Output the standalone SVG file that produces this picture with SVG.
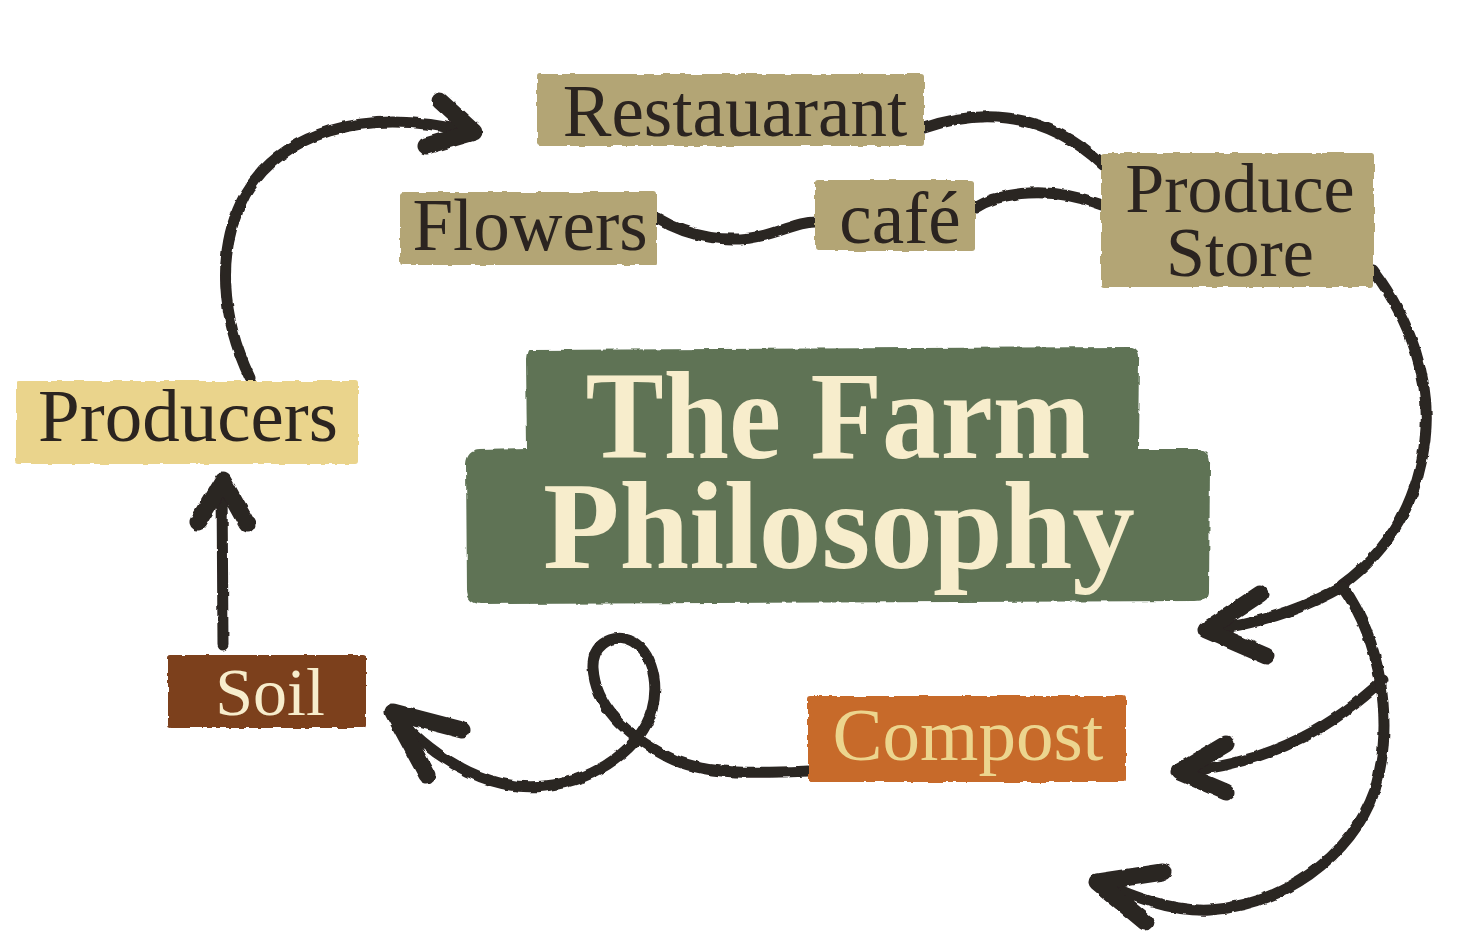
<svg xmlns="http://www.w3.org/2000/svg" width="1482" height="948" viewBox="0 0 1482 948">
<defs>
<filter id="rough" x="-5%" y="-5%" width="110%" height="110%">
<feTurbulence type="fractalNoise" baseFrequency="0.09" numOctaves="2" seed="3" result="n"/>
<feDisplacementMap in="SourceGraphic" in2="n" scale="4" xChannelSelector="R" yChannelSelector="G"/>
</filter>
<filter id="roughline" x="-10%" y="-10%" width="120%" height="120%">
<feTurbulence type="fractalNoise" baseFrequency="0.1" numOctaves="2" seed="7" result="n"/>
<feDisplacementMap in="SourceGraphic" in2="n" scale="3.5" xChannelSelector="R" yChannelSelector="G"/>
</filter>
</defs>
<style>
.tan{fill:#b3a574}
.lbl{font-family:"Liberation Serif",serif;font-size:72px;fill:#2b2420;text-anchor:middle}
.lt{font-family:"Liberation Serif",serif;font-size:73px;text-anchor:middle}
.title{font-family:"Liberation Serif",serif;font-weight:bold;font-size:124px;fill:#f7edcc;text-anchor:middle}
.line{fill:none;stroke:#2b2522;stroke-width:11;stroke-linecap:round;stroke-linejoin:round}
.head{fill:none;stroke:#2b2522;stroke-width:17;stroke-linecap:round;stroke-linejoin:round}
</style>
<rect width="1482" height="948" fill="#ffffff"/>

<g id="connectors" filter="url(#roughline)">
<path class="line" d="M250,378 C222,320 215,250 245,195 C280,135 360,105 470,132"/>
<path class="head" d="M440,101 L474,132 L426,146"/>
<path class="line" d="M924,128 C970,112 1040,105 1103,165"/>
<path class="line" d="M975,208 C1000,192 1050,185 1102,205"/>
<path class="line" d="M657,218 C690,238 730,244 765,235 C790,228 800,222 816,222"/>
<path class="line" d="M1373,270 C1410,320 1432,380 1425,440 C1418,500 1390,550 1342,585"/>
<path class="line" d="M1345,585 C1310,605 1270,622 1210,630"/>
<path class="head" d="M1260,594 L1206,630 L1266,656"/>
<path class="line" d="M1383,680 C1340,720 1280,762 1182,772"/>
<path class="head" d="M1226,744 L1179,772 L1226,792"/>
<path class="line" d="M1343,587 C1380,640 1395,720 1375,790 C1350,860 1280,905 1210,910 C1170,912 1130,895 1100,882"/>
<path class="head" d="M1163,872 L1097,882 L1145,922"/>
<path class="line" d="M808,771 C760,773 705,776 668,757 C625,735 595,705 593,668 C592,645 610,636 625,639 C650,645 660,680 652,710 C642,745 600,780 545,786 C495,792 440,765 396,716"/>
<path class="head" d="M462,730 L393,712 L427,775"/>
<path class="line" d="M223,645 L222,484"/>
<path class="head" d="M198,522 L223,481 L247,524"/>
</g>

<g id="title">
<path fill="#5e7355" filter="url(#rough)" d="M530,350 L1132,347 Q1140,349 1139,360 L1138,449 L1200,449 Q1211,451 1210,465 L1209,592 Q1208,601 1195,601 L480,604 Q467,603 467,590 L466,464 Q467,450 480,450 L527,449 L526,360 Q527,350 530,350 Z"/>
<text class="title" x="838" y="458" textLength="505" lengthAdjust="spacingAndGlyphs">The Farm</text>
<text class="title" x="839" y="568" textLength="592" lengthAdjust="spacingAndGlyphs">Philosophy</text>
</g>

<g id="restaurant">
<rect class="tan" x="537" y="74" width="387" height="72" rx="3" filter="url(#rough)"/>
<text class="lbl" x="735" y="136" style="font-size:73px">Restauarant</text>
</g>

<g id="flowers">
<rect class="tan" x="400" y="192" width="257" height="73" rx="3" filter="url(#rough)"/>
<text class="lbl" x="530" y="250" style="font-size:73px">Flowers</text>
</g>

<g id="cafe">
<rect class="tan" x="815" y="180" width="160" height="71" rx="3" filter="url(#rough)"/>
<text class="lbl" x="900" y="243" style="font-size:73px">café</text>
</g>

<g id="produce-store">
<rect class="tan" x="1101" y="153" width="273" height="134" rx="3" filter="url(#rough)"/>
<text class="lbl" x="1240" y="212" style="font-size:70px">Produce</text>
<text class="lbl" x="1240" y="276" style="font-size:70px">Store</text>
</g>

<g id="producers">
<rect fill="#ead48c" x="16" y="381" width="342" height="83" rx="3" filter="url(#rough)"/>
<text class="lbl" x="188" y="441" style="font-size:75px">Producers</text>
</g>

<g id="soil">
<rect fill="#7b3f1d" x="168" y="655" width="198" height="73" rx="3" filter="url(#rough)"/>
<text class="lt" x="270" y="715" fill="#f7edcc" style="font-size:68px">Soil</text>
</g>

<g id="compost">
<rect fill="#c76b2b" x="808" y="696" width="318" height="86" rx="3" filter="url(#rough)"/>
<text class="lt" x="968" y="760" fill="#ecd58e" style="font-size:75px">Compost</text>
</g>
</svg>
